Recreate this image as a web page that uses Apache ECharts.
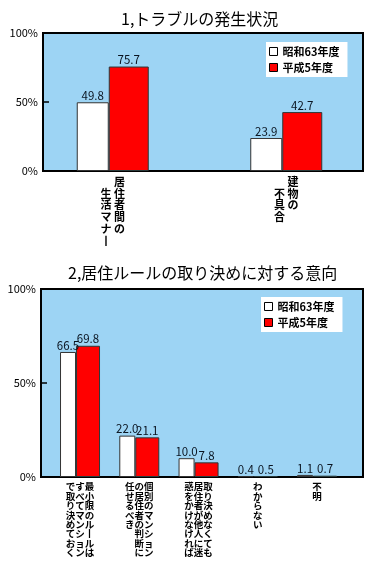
<!DOCTYPE html>
<html>
<head>
<meta charset="utf-8">
<script src="https://cdn.jsdelivr.net/npm/echarts@6/dist/echarts.min.js"></script>
<style>
html,body{margin:0;padding:0;background:#fff;}
#c{width:373px;height:573px;}
</style>
</head>
<body>
<div id="c"></div>
<script>
const topTitle = '1,トラブルの発生状況';
const bottomTitle = '2,居住ルールの取り決めに対する意向';
const seriesNames = ['昭和63年度', '平成5年度'];
const topCategories = ['居住者間の生活マナー', '建物の不具合'];
const topS63 = [49.8, 23.9];
const topH5 = [75.7, 42.7];
const bottomCategories = [
  '最小限のルールはすべてマンションで取り決めておく',
  '個別のマンションの居住者の判断に任せるべき',
  '取り決めなくても居住者が他人に迷惑をかけなければ',
  'わからない',
  '不明'
];
const bottomS63 = [66.5, 22.0, 10.0, 0.4, 1.1];
const bottomH5 = [69.8, 21.1, 7.8, 0.5, 0.7];
const yMin = 0, yMax = 100, yStep = 50;

const FONT = 'Noto Sans CJK JP';
const BLUE = '#9DD4F4';

// vertical (tategaki) layout: columns read right-to-left
function vertical(text, colLen, offset, sep) {
  const chars = Array.from(text.replace(/ー/g, '丨'));
  const cols = [];
  for (let i = 0; i < chars.length; i += colLen) cols.push(chars.slice(i, i + colLen));
  let rows = 0;
  cols.forEach((c, k) => { rows = Math.max(rows, c.length + k * offset); });
  const lines = [];
  for (let r = 0; r < rows; r++) {
    const parts = [];
    for (let k = cols.length - 1; k >= 0; k--) {
      const idx = r - k * offset;
      parts.push(idx >= 0 && idx < cols[k].length ? cols[k][idx] : '　');
    }
    lines.push(parts.join(sep));
  }
  return lines.join('\n');
}

const chart = echarts.init(document.getElementById('c'));

function valueLabel() {
  return { show: true, position: 'top', distance: 1, fontSize: 11.5, color: '#0a1420',
           fontFamily: FONT, formatter: p => Number(p.value).toFixed(1) };
}
function bgY(idx) {
  return { gridIndex: idx, type: 'value', min: yMin, max: yMax, interval: yStep,
    axisLine: { show: true, lineStyle: { color: '#000', width: 2 } },
    axisTick: { show: true, inside: true, length: 6, lineStyle: { color: '#000', width: 1.5 } },
    axisLabel: { formatter: '{value}%', fontSize: 11, color: '#000', margin: 5, fontFamily: FONT },
    splitLine: { show: false } };
}
function hidY(idx) {
  return { gridIndex: idx, type: 'value', min: yMin, max: yMax, show: false, splitLine: { show: false } };
}
function legendAt(left, top) {
  return { data: seriesNames, orient: 'vertical', left: left, top: top, backgroundColor: '#fff', icon: 'rect',
    padding: [4, 8, 4, 3], itemWidth: 8, itemHeight: 8, itemGap: 5, itemStyle: { borderColor: '#000', borderWidth: 1 },
    textStyle: { fontSize: 11, fontWeight: 'bold', color: '#000', fontFamily: FONT } };
}

chart.setOption({
  animation: false,
  textStyle: { fontFamily: FONT },
  title: [
    { text: topTitle, left: 116, top: 6, textStyle: { fontSize: 16, fontWeight: 'normal', color: '#000', fontFamily: FONT } },
    { text: bottomTitle, left: 63, top: 260, textStyle: { fontSize: 16, fontWeight: 'normal', color: '#000', fontFamily: FONT } }
  ],
  legend: [legendAt(266, 42), legendAt(261, 297)],
  grid: [
    { left: 43, top: 33, width: 320, height: 138, show: true, backgroundColor: BLUE, borderColor: '#000', borderWidth: 2 },
    { left: 26, top: 33, width: 352, height: 138, show: false },
    { left: 41, top: 289, width: 322, height: 188, show: true, backgroundColor: BLUE, borderColor: '#000', borderWidth: 2 },
    { left: 50.4, top: 289, width: 296.3, height: 188, show: false }
  ],
  xAxis: [
    { gridIndex: 0, type: 'category', data: topCategories, show: false },
    { gridIndex: 1, type: 'category', data: topCategories, axisLine: { show: false }, axisTick: { show: false },
      axisLabel: { interval: 0, margin: 5, fontSize: 11, lineHeight: 11.7, color: '#000', fontWeight: 'bold', fontFamily: FONT,
        formatter: v => vertical(v, Math.ceil(Array.from(v).length / 2), 1, ' ') } },
    { gridIndex: 2, type: 'category', data: bottomCategories, show: false },
    { gridIndex: 3, type: 'category', data: bottomCategories, axisLine: { show: false }, axisTick: { show: false },
      axisLabel: { interval: 0, margin: 5, fontSize: 9.5, lineHeight: 9.4, color: '#000', fontWeight: 'bold', fontFamily: FONT,
        formatter: v => vertical(v, 8, 0, '') } }
  ],
  yAxis: [bgY(0), hidY(1), bgY(2), hidY(3)],
  series: [
    { type: 'bar', name: seriesNames[0], xAxisIndex: 1, yAxisIndex: 1, data: topS63, barWidth: 32, barGap: 0,
      itemStyle: { color: '#fff', borderColor: '#333', borderWidth: 1 }, label: valueLabel() },
    { type: 'bar', name: seriesNames[1], xAxisIndex: 1, yAxisIndex: 1, data: topH5, barWidth: 40, barGap: 0,
      itemStyle: { color: '#ff0000', borderColor: '#2a3a3a', borderWidth: 1 }, label: valueLabel() },
    { type: 'bar', name: seriesNames[0], xAxisIndex: 3, yAxisIndex: 3, data: bottomS63, barWidth: 16, barGap: 0,
      itemStyle: { color: '#fff', borderColor: '#333', borderWidth: 1 }, label: valueLabel() },
    { type: 'bar', name: seriesNames[1], xAxisIndex: 3, yAxisIndex: 3, data: bottomH5, barWidth: 24, barGap: 0,
      itemStyle: { color: '#ff0000', borderColor: '#2a3a3a', borderWidth: 1 }, label: valueLabel() }
  ]
});
</script>
</body>
</html>
